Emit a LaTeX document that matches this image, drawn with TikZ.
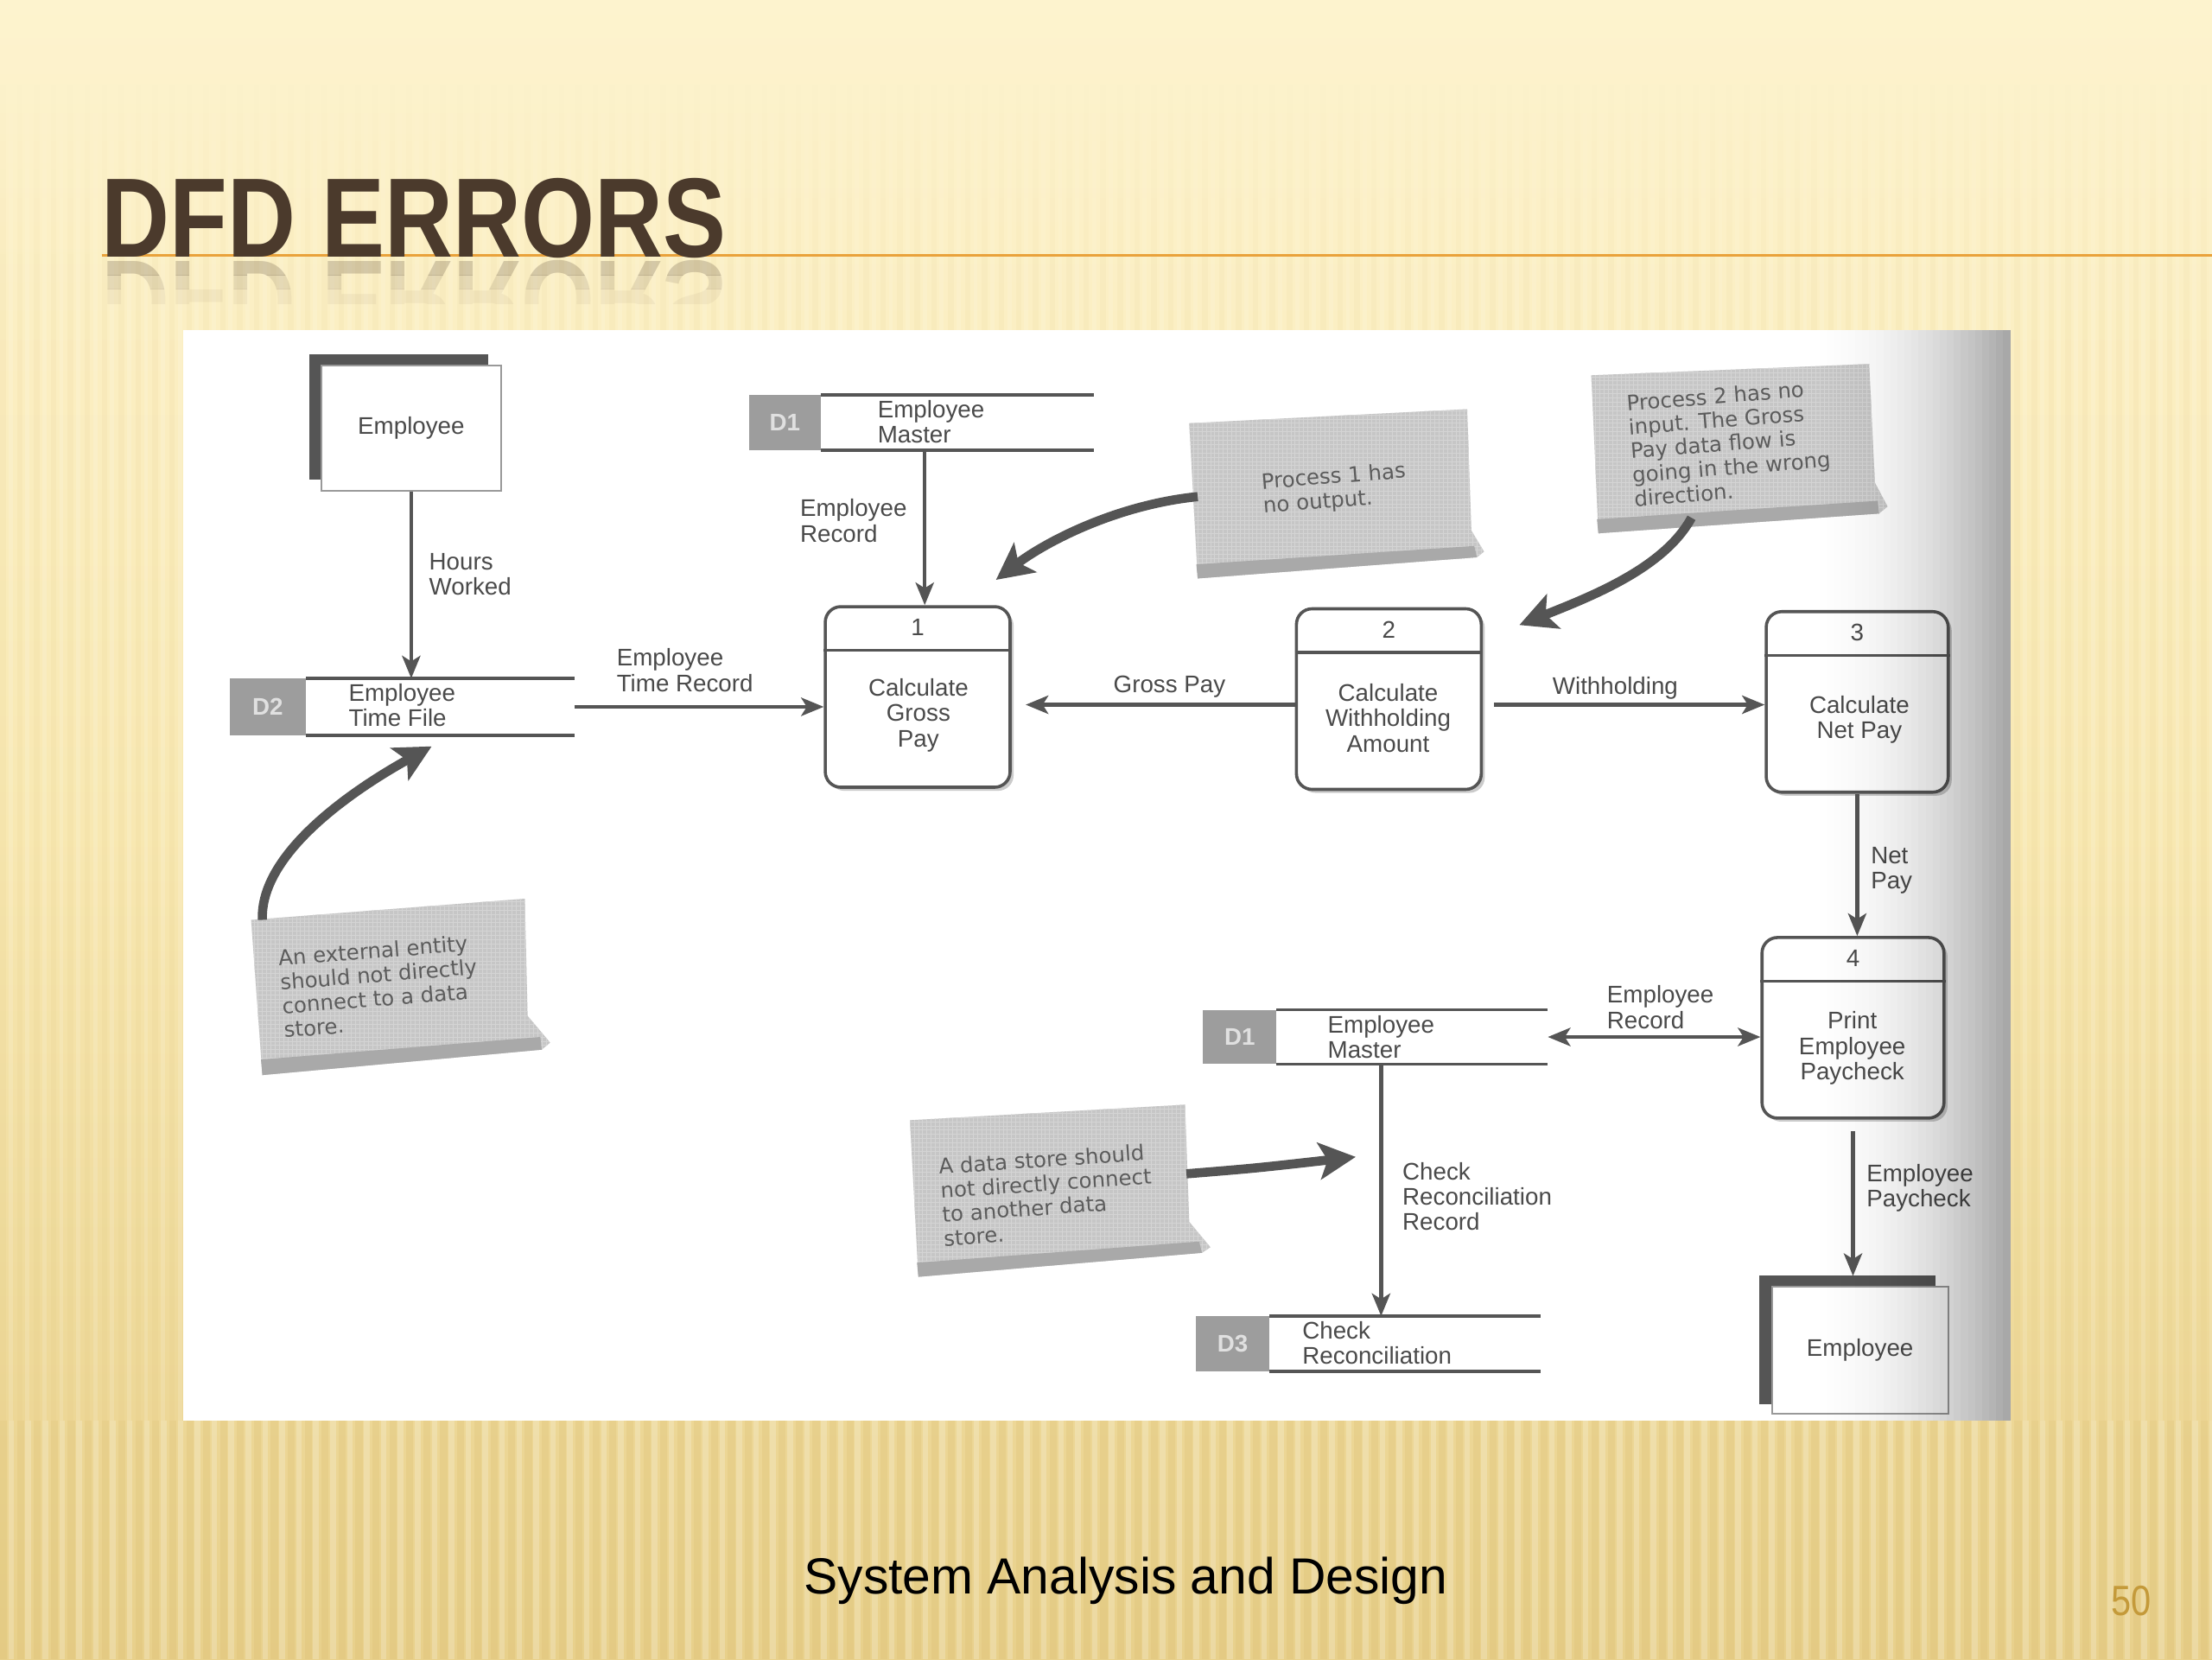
\documentclass[tikz,border=0pt]{standalone}
\usepackage{fontspec}
\setmainfont{Liberation Sans}
\newfontfamily\handfont{DejaVu Sans}
\usetikzlibrary{arrows.meta,patterns,shadows,calc}
\definecolor{bgtop}{HTML}{FDF3CE}
\definecolor{bgmid}{HTML}{F8E8B2}
\definecolor{bgbot}{HTML}{E8D08B}
\definecolor{stripec}{HTML}{D2B462}
\definecolor{titlec}{HTML}{4B3A2C}
\definecolor{orangec}{HTML}{E9A23B}
\definecolor{lc}{HTML}{555555}
\definecolor{tc}{HTML}{4A4A4A}
\definecolor{notec}{HTML}{C6C6C6}
\definecolor{notetex}{HTML}{D4D4D4}
\definecolor{noteb}{HTML}{A9A9A9}
\definecolor{notetc}{HTML}{5C5C5C}
\definecolor{idc}{HTML}{9D9D9D}
\definecolor{pagec}{HTML}{C49A3A}
\newcommand\storeparts[3]{%
  \fill[idc] (#1.north west) rectangle ([xshift=#2pt]#1.south west);
  \draw[storeline] ([xshift=#2pt]#1.north west) -- (#1.north east);
  \draw[storeline] ([xshift=#2pt]#1.south west) -- (#1.south east);
  \node[idtext] (#1id) at ([xshift={#2pt/2}]#1.west) {#3};}
\begin{document}
\begin{tikzpicture}[x=1pt,y=-1pt,
  diag/.style={font=\fontsize{17}{18}\selectfont, text=tc},
  lbl/.style={diag, align=left, inner sep=0pt},
  proc/.style={draw=lc, line width=2.2pt, rounded corners=11pt, fill=white,
    minimum width=130pt, minimum height=128pt, inner sep=0pt,
    drop shadow={shadow xshift=2.5pt, shadow yshift=-2.5pt, fill=black!40}},
  entity/.style={draw=lc!60, line width=1.2pt, fill=white, inner sep=0pt, diag,
    general shadow={shadow xshift=-9pt, shadow yshift=8pt, fill=lc}},
  storebox/.style={minimum width=244pt, inner sep=0pt},
  storeline/.style={draw=lc, line width=2.2pt},
  idtext/.style={font=\fontsize{17}{18}\selectfont\bfseries, text=white!88!black, inner sep=0pt},
  flow/.style={draw=lc, line width=2.6pt, -{Stealth[length=16pt,width=13pt,inset=4pt]}},
  bflow/.style={draw=lc, line width=2.6pt, {Stealth[length=16pt,width=13pt,inset=4pt]}-{Stealth[length=16pt,width=13pt,inset=4pt]}},
  callout/.style={draw=lc, line width=6.5pt, -{Stealth[length=26pt,width=26pt,inset=6pt]}},
  notefill/.style={fill=notec, postaction={pattern=grid, pattern color=notetex}},
  notetext/.style={font=\handfont\fontsize{15}{17}\selectfont, text=notetc, align=left, inner sep=0pt}
]
\useasboundingbox (0,0) rectangle (1568,1176);
% ---------- slide background ----------
\shade[top color=bgtop, bottom color=bgbot, middle color=bgmid] (0,0) rectangle (1568,1176);
\foreach \b in {0,...,8} {
  \pgfmathsetmacro\sop{0.007*(\b+1)}
  \pgfmathsetmacro\wop{0.014*(\b+1)}
  \foreach \x in {0,12,...,1566} {
    \fill[stripec, opacity=\sop] (\x,60+\b*20) rectangle (\x+4,80+\b*20);
    \fill[white, opacity=\wop] (\x+6,60+\b*20) rectangle (\x+9,80+\b*20);
  }
}
\foreach \x in {0,12,...,1566} {
  \fill[stripec, opacity=0.07] (\x,240) rectangle (\x+4,1007);
  \fill[white, opacity=0.14] (\x+6,240) rectangle (\x+9,1007);
  \fill[stripec, opacity=0.18] (\x,1007) rectangle (\x+5,1176);
  \fill[white, opacity=0.20] (\x+6,1007) rectangle (\x+10,1176);
}
% ---------- title ----------
\draw[orangec, line width=2.2pt] (72,181) -- (1568,181);
\node[anchor=base west, inner sep=0pt, text=titlec, font=\fontsize{80}{80}\selectfont\bfseries] (title) at (72,182) {\scalebox{0.837}[1]{DFD ERRORS}};
\begin{scope}
  \clip (60,184) rectangle (560,195);
  \node[anchor=base west, inner sep=0pt, text=titlec, text opacity=0.22, font=\fontsize{80}{80}\selectfont\bfseries] (reflA) at (72,185) {\scalebox{0.837}[-1]{DFD ERRORS}};
\end{scope}
\begin{scope}
  \clip (60,195) rectangle (560,205);
  \node[anchor=base west, inner sep=0pt, text=titlec, text opacity=0.12, font=\fontsize{80}{80}\selectfont\bfseries] (reflB) at (72,185) {\scalebox{0.837}[-1]{DFD ERRORS}};
\end{scope}
\begin{scope}
  \clip (60,205) rectangle (560,215);
  \node[anchor=base west, inner sep=0pt, text=titlec, text opacity=0.05, font=\fontsize{80}{80}\selectfont\bfseries] (reflC) at (72,185) {\scalebox{0.837}[-1]{DFD ERRORS}};
\end{scope}
% ---------- scanned page ----------
\fill[white] (130,234) rectangle (1425,1007);
% ---------- external entities ----------
\node[entity, minimum width=127pt, minimum height=89pt] (e1) at (291.5,303.5) {Employee};
\node[entity, minimum width=125pt, minimum height=90pt, general shadow={shadow xshift=-9pt, shadow yshift=7pt, fill=lc}] (e2) at (1318.5,957) {Employee};
% ---------- processes ----------
\node[proc, minimum width=131pt] (p1) at (650.5,494) {};
\node[proc, minimum width=131pt] (p2) at (984.5,495.5) {};
\node[proc, minimum width=129pt] (p3) at (1316.5,497.5) {};
\node[proc, minimum width=129pt] (p4) at (1313.5,728.5) {};
\foreach \p in {p1,p2,p3,p4} {
  \draw[lc, line width=2pt] ([yshift=-32pt]\p.north west) -- ([yshift=-32pt]\p.north east);
}
\node[diag] (p1n) at ([yshift=-16pt]p1.north) {1};
\node[diag] (p2n) at ([yshift=-16pt]p2.north) {2};
\node[diag] (p3n) at ([yshift=-16pt]p3.north) {3};
\node[diag] (p4n) at ([yshift=-16pt]p4.north) {4};
\node[diag, align=center, inner sep=0pt] (p1t) at (651,507) {Calculate\\Gross\\Pay};
\node[diag, align=center, inner sep=0pt] (p2t) at (984,509) {Calculate\\Withholding\\Amount};
\node[diag, align=center, inner sep=0pt] (p3t) at (1318,510) {Calculate\\Net Pay};
\node[diag, align=center, inner sep=0pt] (p4t) at (1313,743) {Print\\Employee\\Paycheck};
% ---------- data stores ----------
\node[storebox, minimum height=40pt] (d2) at (285,501) {};
\storeparts{d2}{54}{D2}
\node[storebox, minimum height=39pt] (d1a) at (653,299.5) {};
\storeparts{d1a}{51}{D1}
\node[storebox, minimum height=38pt] (d1b) at (975,735) {};
\storeparts{d1b}{52}{D1}
\node[storebox, minimum height=39pt] (d3) at (970,952.5) {};
\storeparts{d3}{52}{D3}
\node[lbl, anchor=west] (d2t) at (247,500) {Employee\\Time File};
\node[lbl, anchor=west] (d1at) at (622,299) {Employee\\Master};
\node[lbl, anchor=west] (d1bt) at (941,735) {Employee\\Master};
\node[lbl, anchor=west] (d3t) at (923,952) {Check\\Reconciliation};
% ---------- data flows ----------
\draw[flow] (e1.south) -- (e1.south |- d2.north);
\draw[flow] (d2.east) -- (d2.east -| p1.west);
\draw[flow] ([xshift=5pt]p1.north |- d1a.south) -- ([xshift=5pt]p1.north);
\draw[flow, shorten >=10pt] ([yshift=-4pt]p2.west) -- ([yshift=-4pt]p2.west -| p1.east);
\draw[flow, shorten <=8pt] ([yshift=-4pt]p2.east) -- ([yshift=-4pt]p2.east -| p3.west);
\draw[flow] (p3.south) -- (p3.south |- p4.north);
\draw[bflow] (d1b.east) -- (d1b.east -| p4.west);
\draw[flow] ([xshift=4pt]d1b.south) -- ([xshift=4pt]d1b.south |- d3.north);
\draw[flow, shorten <=8pt, shorten >=7pt] (p4.south) -- (p4.south |- e2.north);
\node[lbl, anchor=west] (lhw) at (304,407) {Hours\\Worked};
\node[lbl, anchor=west] (letr) at (437,475) {Employee\\Time Record};
\node[lbl, anchor=west] (ler1) at (567,369) {Employee\\Record};
\node[lbl] (lgp) at (829,487) {Gross Pay};
\node[lbl] (lwh) at (1145,488) {Withholding};
\node[lbl, anchor=west] (lnp) at (1326,617) {Net\\Pay};
\node[lbl, anchor=west] (ler2) at (1139,714) {Employee\\Record};
\node[lbl, anchor=west] (lcrr) at (994,848) {Check\\Reconciliation\\Record};
\node[lbl, anchor=west] (lep) at (1323,842) {Employee\\Paycheck};
% ---------- sticky notes ----------
\path[notefill] (843,300) -- (1040,290) -- (1043,376) -- (1052,391) -- (1047,395) -- (849,410) -- cycle;
\fill[noteb] (848,400) -- (1045,387) -- (1047,395) -- (849,410) -- cycle;
\node[notetext, rotate=4.5] (nA) at (946,347) {Process 1 has\\no output.};
\path[notefill] (1128,266) -- (1325,258) -- (1329,342) -- (1338,359) -- (1332,364) -- (1133,378) -- cycle;
\fill[noteb] (1132,368) -- (1331,355) -- (1332,364) -- (1133,378) -- cycle;
\node[notetext, rotate=4.5] (nB) at (1226,314) {Process 2 has no\\input. The Gross\\Pay data flow is\\going in the wrong\\direction.};
\path[notefill] (178,652) -- (372,637) -- (374,720) -- (390,739) -- (384,744) -- (186,762) -- cycle;
\fill[noteb] (185,751) -- (383,735) -- (384,744) -- (186,762) -- cycle;
\node[notetext, rotate=4.5] (nC) at (269,699) {An external entity\\should not directly\\connect to a data\\store.};
\path[notefill] (645,794) -- (840,783) -- (843,866) -- (858,884) -- (852,888) -- (651,905) -- cycle;
\fill[noteb] (650,895) -- (850,880) -- (852,888) -- (651,905) -- cycle;
\node[notetext, rotate=4] (nD) at (742,847) {A data store should\\not directly connect\\to another data\\store.};
% ---------- callout arrows ----------
\coordinate (sA) at (849,352); \coordinate (tA) at (706,411);
\coordinate (sB) at (1199,367); \coordinate (tB) at (1077,443);
\coordinate (sC) at (186,652); \coordinate (tC) at (306,529);
\coordinate (sD) at (841,832); \coordinate (tD) at (961,820);
\draw[callout] (sA) .. controls (790,358) and (740,385) .. (tA);
\draw[callout] (sB) .. controls (1180,402) and (1130,422) .. (tB);
\draw[callout] (sC) .. controls (184,605) and (250,560) .. (tC);
\draw[callout] (sD) .. controls (890,828) .. (tD);
% ---------- page darkening at right edge ----------
\foreach \i in {0,...,29} {
  \pgfmathsetmacro\op{0.34*(\i/29)^2}
  \fill[black, opacity=\op] (1275+\i*5,234) rectangle (1280+\i*5,1007);
}
% ---------- footer ----------
\node[anchor=base, inner sep=0pt, font=\fontsize{36}{36}\selectfont] (footer) at (798,1130) {System Analysis and Design};
\node[anchor=base, inner sep=0pt, text=pagec, font=\fontsize{30}{30}\selectfont] (pgnum) at (1511,1145) {\scalebox{0.85}[1]{50}};
\end{tikzpicture}
\end{document}
